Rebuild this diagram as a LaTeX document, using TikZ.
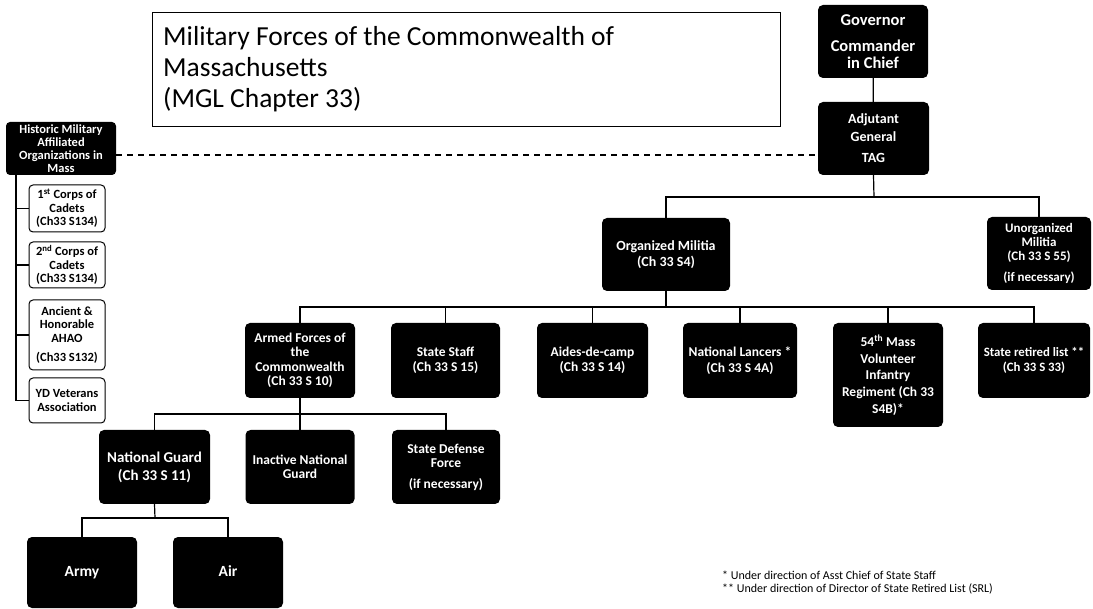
\documentclass[tikz,border=0pt]{standalone}
\usepackage{fontspec}
\setmainfont{Carlito}
\begin{document}
\begin{tikzpicture}[x=1pt,y=-1pt,
  blk/.style={fill=black, rounded corners=5pt, text=white, align=center, inner sep=1pt, font=\bfseries\fontsize{13.5}{15.5}\selectfont},
  wht/.style={draw=black, line width=1pt, fill=white, rounded corners=4pt, align=center, inner sep=1pt, font=\bfseries\fontsize{12.5}{13.5}\selectfont},
  conn/.style={line width=1.2pt},
  dline/.style={line width=1.2pt, dash pattern=on 6pt off 5pt}]
\useasboundingbox (0,0) rectangle (1093,609);

% title
\node[draw, line width=1.2pt, anchor=north west, minimum width=628pt, minimum height=114pt, inner sep=0pt] (title) at (152,12) {};
\node[anchor=north west, align=left, inner sep=0pt, font=\fontsize{27.5}{31}\selectfont] (titletext) at (163,26)
 {Military Forces of the Commonwealth of\\Massachusetts\\(MGL Chapter 33)};

% top chain
\node[blk, minimum width=110pt, minimum height=73pt, font=\bfseries\fontsize{16.5}{17}\selectfont] (gov) at (873,41.5) {Governor\\[9pt]Commander\\in Chief};
\node[blk, minimum width=111pt, minimum height=73pt, font=\bfseries\fontsize{14}{18}\selectfont] (tag) at (873.5,138.5) {Adjutant\\General\\[3pt]TAG};

\node[blk, minimum width=128pt, minimum height=73pt, font=\bfseries\fontsize{14}{16}\selectfont] (om) at (666,254.5) {Organized Militia\\(Ch 33 S4)};
\node[blk, minimum width=104pt, minimum height=73pt, font=\bfseries\fontsize{13}{14}\selectfont] (um) at (1039,253.5) {Unorganized\\Militia\\(Ch 33 S 55)\\[7pt](if necessary)};

% second row
\node[blk, minimum width=110pt, minimum height=75pt, font=\bfseries\fontsize{13.5}{14.5}\selectfont] (af) at (300,360.5) {Armed Forces of\\the\\Commonwealth\\(Ch 33 S 10)};
\node[blk, minimum width=109pt, minimum height=75pt] (ss) at (445.5,360.5) {State Staff\\(Ch 33 S 15)};
\node[blk, minimum width=111pt, minimum height=75pt] (adc) at (592.5,360.5) {Aides-de-camp\\(Ch 33 S 14)};
\node[blk, minimum width=114pt, minimum height=75pt] (nl) at (740,360.5) {National Lancers *\\(Ch 33 S 4A)};
\node[blk, minimum width=110pt, minimum height=104pt, font=\bfseries\fontsize{13.5}{16.7}\selectfont] (inf) at (888,375) {54\textsuperscript{th} Mass\\Volunteer\\Infantry\\Regiment (Ch 33\\S4B)*};
\node[blk, minimum width=112pt, minimum height=75pt, font=\bfseries\fontsize{12.8}{15.5}\selectfont] (srl) at (1034,360.5) {State retired list **\\(Ch 33 S 33)};

% third row
\node[blk, minimum width=111pt, minimum height=74pt, font=\bfseries\fontsize{15}{18}\selectfont] (ng) at (154.5,467) {National Guard\\(Ch 33 S 11)};
\node[blk, minimum width=109pt, minimum height=74pt, font=\bfseries\fontsize{13.5}{14.5}\selectfont] (ing) at (300,467) {Inactive National\\Guard};
\node[blk, minimum width=108pt, minimum height=74pt, font=\bfseries\fontsize{13.5}{14}\selectfont] (sdf) at (446,467) {State Defense\\Force\\[7pt](if necessary)};

% fourth row
\tikzset{leaf/.style={blk, minimum width=110pt, minimum height=71pt, text height=11pt, text depth=3pt, font=\bfseries\fontsize{15.5}{18}\selectfont}}
\node[leaf] (army) at (82,572.5) {Army};
\node[leaf] (air) at (228,572.5) {Air};

% historic
\node[blk, rounded corners=4pt, minimum width=110pt, minimum height=53pt, font=\bfseries\fontsize{12.5}{13}\selectfont] (hist) at (61,148.5) {Historic Military\\Affiliated\\Organizations in\\Mass};
\node[wht, minimum width=76pt, minimum height=47pt] (c1) at (67,208.5) {1\textsuperscript{st} Corps of\\Cadets\\(Ch33 S134)};
\node[wht, minimum width=76pt, minimum height=46pt] (c2) at (67,265) {2\textsuperscript{nd} Corps of\\Cadets\\(Ch33 S134)};
\node[wht, minimum width=76pt, minimum height=70pt] (c3) at (67,335) {Ancient \&\\Honorable\\AHAO\\[6pt](Ch33 S132)};
\node[wht, minimum width=76pt, minimum height=45pt] (c4) at (67,400.5) {YD Veterans\\Association};

% footnotes
\node[anchor=north west, align=left, inner sep=0pt, font=\fontsize{12}{12.5}\selectfont] (fn) at (722,571) {* Under direction of Asst Chief of State Staff\\** Under direction of Director of State Retired List (SRL)};

% connectors
\coordinate (r1) at (874,197);
\draw[conn] (gov) -- (tag);
\draw[conn] (tag.south) -- (r1);
\draw[conn] (om.north) |- (r1) -| (um.north);

\coordinate (r2) at (666,307);
\draw[conn] (om.south) -- (r2);
\draw[conn] (af.north) |- (r2) -| (srl.north);
\foreach \n in {ss,adc,nl,inf} \draw[conn] (\n.north) -- (\n.north |- r2);

\coordinate (r3) at (300,414);
\draw[conn] (af.south) -- (ing.north);
\draw[conn] (ng.north) |- (r3) -| (sdf.north);

\coordinate (r4) at (155,518);
\draw[conn] (ng.south) -- (r4);
\draw[conn] (army.north) |- (r4) -| (air.north);

\coordinate (hl) at (16,0);
\draw[conn] (hist.south -| hl) -- (c4.west -| hl) -- (c4.west);
\foreach \c in {c1,c2,c3} \draw[conn] (\c.west -| hl) -- (\c.west);

\coordinate (dl) at (0,155);
\draw[dline] (hist.east |- dl) -- (tag.west |- dl);
\end{tikzpicture}
\end{document}
